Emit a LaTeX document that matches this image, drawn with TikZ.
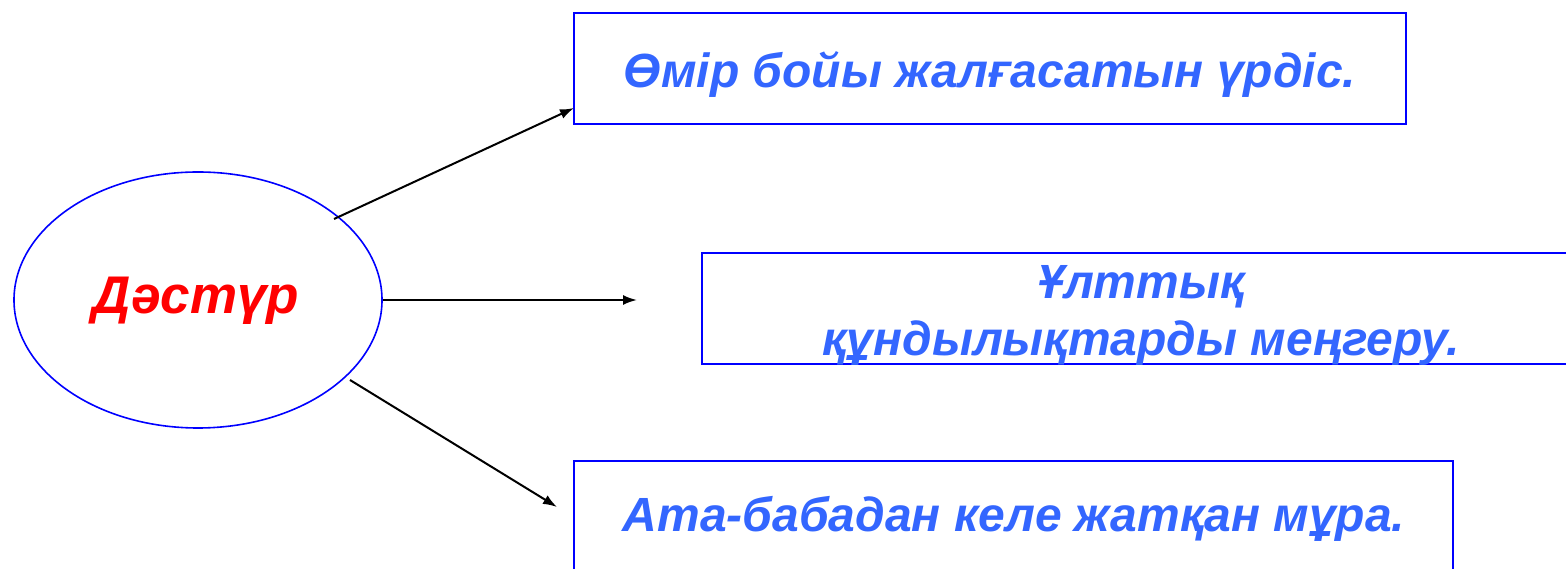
\documentclass[tikz,border=0pt]{standalone}
\usepackage{fontspec}
\setmainfont{Liberation Sans}
\usetikzlibrary{shapes.geometric,arrows.meta}
\definecolor{txtblue}{HTML}{3366FF}
\definecolor{boxblue}{HTML}{0000FF}
\tikzset{
  boxline/.style={draw=boxblue, line width=2.2pt},
  lbl/.style={text=txtblue, font=\bfseries\itshape\fontsize{48}{57}\selectfont, align=center},
  conn/.style={line width=2pt, -{Latex[length=14pt,width=10pt]}}
}
\begin{document}
\begin{tikzpicture}[x=1pt,y=1pt]
\useasboundingbox (0,0) rectangle (1566,569);
% ellipse
\node[ellipse, draw=boxblue, line width=1.6pt, minimum width=368pt, minimum height=256pt, inner sep=0pt] (e) at (198,269) {};
\node[text=red, font=\bfseries\itshape\fontsize{53}{60}\selectfont] (et) at (196,268) {Дәстүр};
% boxes
\draw[boxline] (574,556) rectangle (1406,445);
\node[lbl] (t1) at (990,494) {Өмір бойы жалғасатын үрдіс.};
\draw[boxline] (702,316) rectangle (1590,205);
\node[lbl] (t2) at (1141,254) {Ұлттық\\құндылықтарды меңгеру.};
\draw[boxline] (574,108) rectangle (1453,-10);
\node[lbl] (t3) at (1014,50) {Ата-бабадан келе жатқан мұра.};
% connector endpoints
\coordinate (s1) at (334,350);
\coordinate (e1) at (574,461);
\coordinate (s2) at (383,269);
\coordinate (e2) at (637,269);
\coordinate (s3) at (350,189);
\coordinate (e3) at (557,62);
\draw[conn] (s1) -- (e1);
\draw[conn] (s2) -- (e2);
\draw[conn] (s3) -- (e3);
\end{tikzpicture}
\end{document}
